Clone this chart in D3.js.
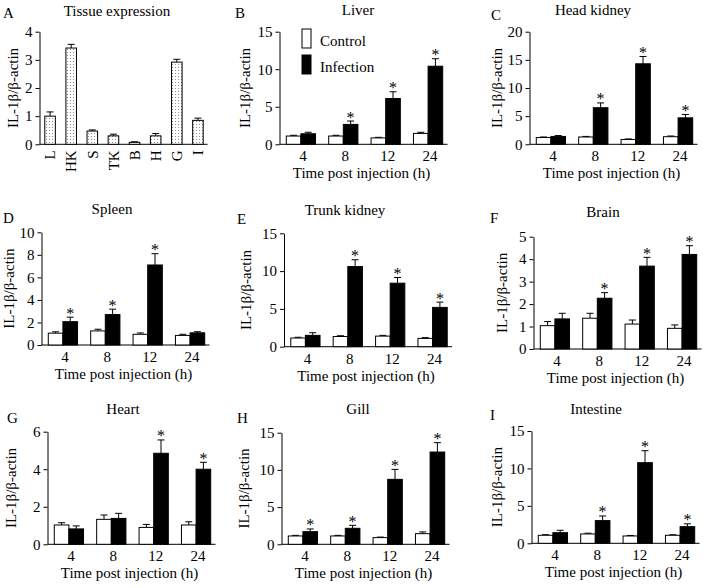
<!DOCTYPE html>
<html><head><meta charset="utf-8">
<script src="https://cdn.jsdelivr.net/npm/d3@7"></script>
<style>
body{margin:0;background:#fff}
svg text{font-family:"Liberation Serif","Times New Roman",serif;fill:#000}
</style>
</head><body>
<svg id="chart" width="703" height="588"></svg>
<script>
// ---------- DATA ----------
const timePoints = ["4", "8", "12", "24"];
const tissues = ["L", "HK", "S", "TK", "B", "H", "G", "I"];
const tissueMean = [1.0, 3.42, 0.47, 0.3, 0.07, 0.3, 2.92, 0.85];
const tissueErr  = [0.15, 0.13, 0.04, 0.06, 0.02, 0.08, 0.1, 0.08];
const tissueTicks = [0, 1, 2, 3, 4];

const liverControl = [1.1, 1.1, 0.85, 1.45];
const liverControlErr = [0.1, 0.1, 0.08, 0.15];
const liverInfection = [1.4, 2.65, 6.1, 10.4];
const liverInfectionErr = [0.2, 0.45, 0.9, 1.0];
const liverStars = [0, 1, 1, 1];
const liverTicks = [0, 5, 10, 15];

const headKidneyControl = [1.2, 1.3, 0.85, 1.35];
const headKidneyControlErr = [0.1, 0.1, 0.1, 0.12];
const headKidneyInfection = [1.4, 6.5, 14.3, 4.7];
const headKidneyInfectionErr = [0.15, 0.85, 1.3, 0.6];
const headKidneyStars = [0, 1, 1, 1];
const headKidneyTicks = [0, 5, 10, 15, 20];

const spleenControl = [1.05, 1.25, 0.95, 0.85];
const spleenControlErr = [0.12, 0.15, 0.12, 0.1];
const spleenInfection = [2.07, 2.7, 7.1, 1.08];
const spleenInfectionErr = [0.4, 0.48, 1.0, 0.1];
const spleenStars = [1, 1, 1, 0];
const spleenTicks = [0, 2, 4, 6, 8, 10];

const trunkKidneyControl = [1.15, 1.35, 1.4, 1.1];
const trunkKidneyControlErr = [0.1, 0.1, 0.1, 0.1];
const trunkKidneyInfection = [1.5, 10.6, 8.4, 5.2];
const trunkKidneyInfectionErr = [0.35, 0.9, 0.75, 0.7];
const trunkKidneyStars = [0, 1, 1, 1];
const trunkKidneyTicks = [0, 5, 10, 15];

const brainControl = [1.04, 1.37, 1.11, 0.92];
const brainControlErr = [0.18, 0.22, 0.18, 0.15];
const brainInfection = [1.34, 2.26, 3.69, 4.21];
const brainInfectionErr = [0.25, 0.25, 0.39, 0.39];
const brainStars = [0, 1, 1, 1];
const brainTicks = [0, 1, 2, 3, 4, 5];

const heartControl = [1.03, 1.33, 0.9, 1.03];
const heartControlErr = [0.12, 0.23, 0.16, 0.17];
const heartInfection = [0.82, 1.38, 4.85, 4.0];
const heartInfectionErr = [0.16, 0.27, 0.71, 0.37];
const heartStars = [0, 0, 1, 1];
const heartTicks = [0, 2, 4, 6];

const gillControl = [1.12, 1.12, 0.9, 1.43];
const gillControlErr = [0.08, 0.08, 0.07, 0.23];
const gillInfection = [1.7, 2.15, 8.73, 12.4];
const gillInfectionErr = [0.36, 0.4, 1.34, 1.26];
const gillStars = [1, 1, 1, 1];
const gillTicks = [0, 5, 10, 15];

const intestineControl = [1.07, 1.25, 0.98, 1.07];
const intestineControlErr = [0.08, 0.1, 0.07, 0.07];
const intestineInfection = [1.42, 3.03, 10.77, 2.22];
const intestineInfectionErr = [0.32, 0.62, 1.6, 0.38];
const intestineStars = [0, 1, 1, 1];
const intestineTicks = [0, 5, 10, 15];

const seriesNames = ["Control", "Infection"];
const yLabel = "IL-1β/β-actin";
const xLabel = "Time post injection (h)";

// ---------- PANELS (data refs) ----------
const timePanels = [
  {letter:"B", title:"Liver", c:liverControl, ce:liverControlErr, inf:liverInfection, ie:liverInfectionErr, stars:liverStars, ticks:liverTicks},
  {letter:"C", title:"Head kidney", c:headKidneyControl, ce:headKidneyControlErr, inf:headKidneyInfection, ie:headKidneyInfectionErr, stars:headKidneyStars, ticks:headKidneyTicks},
  {letter:"D", title:"Spleen", c:spleenControl, ce:spleenControlErr, inf:spleenInfection, ie:spleenInfectionErr, stars:spleenStars, ticks:spleenTicks},
  {letter:"E", title:"Trunk kidney", c:trunkKidneyControl, ce:trunkKidneyControlErr, inf:trunkKidneyInfection, ie:trunkKidneyInfectionErr, stars:trunkKidneyStars, ticks:trunkKidneyTicks},
  {letter:"F", title:"Brain", c:brainControl, ce:brainControlErr, inf:brainInfection, ie:brainInfectionErr, stars:brainStars, ticks:brainTicks},
  {letter:"G", title:"Heart", c:heartControl, ce:heartControlErr, inf:heartInfection, ie:heartInfectionErr, stars:heartStars, ticks:heartTicks},
  {letter:"H", title:"Gill", c:gillControl, ce:gillControlErr, inf:gillInfection, ie:gillInfectionErr, stars:gillStars, ticks:gillTicks},
  {letter:"I", title:"Intestine", c:intestineControl, ce:intestineControlErr, inf:intestineInfection, ie:intestineInfectionErr, stars:intestineStars, ticks:intestineTicks}
];

// ---------- LAYOUT ----------
const layout = {
  A:{axisX:39.5, yTop:31.7, yBot:144.3, titleX:117, titleY:16, letX:3, letY:18, yTitleDx:-27},
  B:{axisX:279.5, yTop:31.7, yBot:144.3, titleX:358, titleY:15, letX:235, letY:18, yTitleDx:-35},
  C:{axisX:529.5, yTop:31.7, yBot:144.3, titleX:593, titleY:15, letX:491, letY:20, yTitleDx:-32.5},
  D:{axisX:41.5, yTop:232.3, yBot:345, titleX:112, titleY:214, letX:3, letY:223, yTitleDx:-32.5},
  E:{axisX:284, yTop:233.3, yBot:346.7, titleX:345, titleY:215, letX:237, letY:224, yTitleDx:-38},
  F:{axisX:533.5, yTop:236.7, yBot:349, titleX:603, titleY:216.5, letX:490, letY:223, yTitleDx:-31.5},
  G:{axisX:47.5, yTop:431.7, yBot:544.3, titleX:123, titleY:413.5, letX:7, letY:423, yTitleDx:-37},
  H:{axisX:281.5, yTop:432.7, yBot:544.3, titleX:358, titleY:414, letX:237, letY:423, yTitleDx:-37.5},
  I:{axisX:531.5, yTop:431, yBot:543.3, titleX:596, titleY:413.5, letX:490, letY:420, yTitleDx:-34.5}
};
const FS = 15, AX_LEN = 168;

const svg = d3.select("#chart");
const defs = svg.append("defs");
const pat = defs.append("pattern").attr("id","dots").attr("patternUnits","userSpaceOnUse")
  .attr("width",3).attr("height",3);
pat.append("rect").attr("width",3).attr("height",3).attr("fill","#fff");
pat.append("rect").attr("x",1).attr("y",1).attr("width",1).attr("height",1).attr("fill","#8a8a8a");

function frame(g, L, ticks, letter, title) {
  const y = d3.scaleLinear().domain([0, d3.max(ticks)]).range([L.yBot, L.yTop]);
  const ya = g.append("g").attr("transform", `translate(${L.axisX},0)`)
    .call(d3.axisLeft(y).tickValues(ticks).tickSize(4).tickSizeOuter(0).tickPadding(3).tickFormat(d3.format("d")));
  ya.attr("font-family", null).attr("font-size", null);
  ya.selectAll("text").attr("font-size", FS);
  ya.selectAll("path,line").attr("stroke", "#000");
  g.append("text").attr("transform", `translate(${L.axisX + L.yTitleDx},${(L.yTop + L.yBot) / 2}) rotate(-90)`)
    .attr("text-anchor","middle").attr("dy","0.35em").attr("font-size", FS).text(yLabel);
  g.append("text").attr("x", L.titleX).attr("y", L.titleY).attr("text-anchor","middle").attr("font-size", FS).text(title);
  g.append("text").attr("x", L.letX).attr("y", L.letY).attr("font-size", FS).text(letter);
  g.append("line").attr("x1", L.axisX).attr("x2", L.axisX + AX_LEN).attr("y1", L.yBot).attr("y2", L.yBot)
    .attr("stroke","#000").attr("stroke-width",1);
  return y;
}

function errBar(g, cx, y0, y1) {
  g.append("line").attr("x1",cx).attr("x2",cx).attr("y1",y0).attr("y2",y1).attr("stroke","#000");
  g.append("line").attr("x1",cx-3.5).attr("x2",cx+3.5).attr("y1",y1).attr("y2",y1).attr("stroke","#000");
}

// ---------- Panel A ----------
(function(){
  const L = layout.A;
  const g = svg.append("g");
  const y = frame(g, L, tissueTicks, "A", "Tissue expression");
  const x = d3.scaleBand().domain(tissues).range([L.axisX, L.axisX + 169]).paddingInner(0.5).paddingOuter(0.25);
  tissues.forEach((t, i) => {
    const cx = x(t) + x.bandwidth() / 2;
    errBar(g, cx, y(tissueMean[i]), y(tissueMean[i] + tissueErr[i]));
    g.append("rect").attr("x", x(t)).attr("y", y(tissueMean[i])).attr("width", x.bandwidth())
      .attr("height", y(0) - y(tissueMean[i])).attr("fill","url(#dots)").attr("stroke","#000").attr("stroke-width",1);
    g.append("text").attr("transform", `translate(${cx},${L.yBot + 6}) rotate(-90)`)
      .attr("text-anchor","end").attr("dy","0.35em").attr("font-size", FS).text(t);
  });
})();

// ---------- Time panels ----------
timePanels.forEach(p => {
  const L = layout[p.letter];
  const g = svg.append("g");
  const y = frame(g, L, p.ticks, p.letter, p.title);
  const x = d3.scaleBand().domain(timePoints).range([L.axisX, L.axisX + 170]).paddingInner(0.31).paddingOuter(0.16);
  const sub = d3.scaleBand().domain(seriesNames).range([0, x.bandwidth()]);
  timePoints.forEach((t, i) => {
    const groups = [
      {name:"Control", v:p.c[i], e:p.ce[i], fill:"#fff", star:0},
      {name:"Infection", v:p.inf[i], e:p.ie[i], fill:"#000", star:p.stars[i]}
    ];
    groups.forEach(d => {
      const bx = x(t) + sub(d.name), cx = bx + sub.bandwidth() / 2;
      errBar(g, cx, y(d.v), y(d.v + d.e));
      g.append("rect").attr("x", bx).attr("y", y(d.v)).attr("width", sub.bandwidth())
        .attr("height", y(0) - y(d.v)).attr("fill", d.fill).attr("stroke","#000").attr("stroke-width",1);
      if (d.star) g.append("text").attr("x", cx).attr("y", y(d.v + d.e) + 1.5)
        .attr("text-anchor","middle").attr("font-size", 16).text("*");
    });
    g.append("text").attr("x", x(t) + x.bandwidth() / 2 + 2).attr("y", L.yBot + 17)
      .attr("text-anchor","middle").attr("font-size", FS).text(t);
  });
  g.append("text").attr("x", L.axisX + 82).attr("y", L.yBot + 34)
    .attr("text-anchor","middle").attr("font-size", FS).text(xLabel);
});

// ---------- Legend (panel B) ----------
const leg = svg.append("g");
const legendY = [29, 55];
seriesNames.forEach((n, i) => {
  leg.append("rect").attr("x", 302).attr("y", legendY[i]).attr("width", 9).attr("height", 19)
    .attr("fill", i === 0 ? "#fff" : "#000").attr("stroke","#000");
  leg.append("text").attr("x", 320).attr("y", legendY[i] + 17).attr("font-size", FS).text(n);
});
</script>
</body></html>
